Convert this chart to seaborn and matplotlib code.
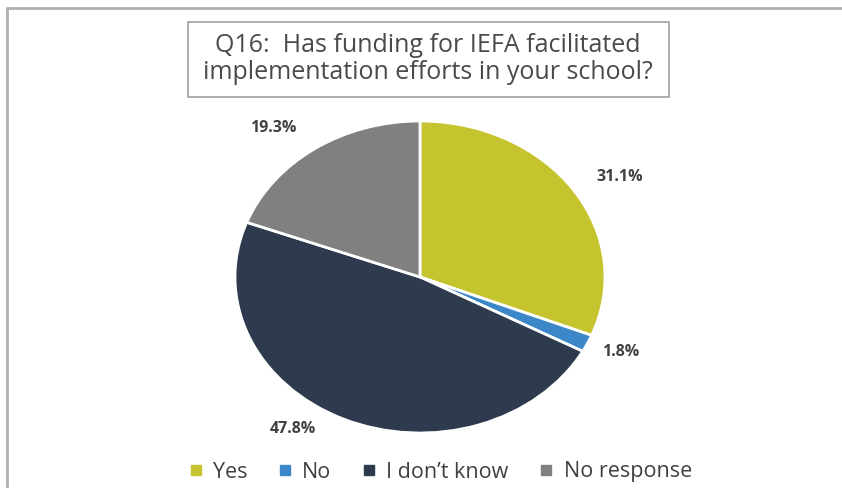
"""
Pie chart: Q16 funding for IEFA implementation.
"""
import numpy as np
import matplotlib
matplotlib.use("Agg")
import matplotlib.pyplot as plt
from matplotlib.patches import Rectangle
from matplotlib.lines import Line2D
import seaborn as sns

categories = ["Yes", "No", "I don\u2019t know", "No response"]
shares = [31.1, 1.8, 47.8, 19.3]
colors = ["#C5C42F", "#3B87C8", "#2E3A4E", "#808080"]
title = "Q16:  Has funding for IEFA facilitated\nimplementation efforts in your school?"

sns.set_style("white")
plt.rcParams["font.family"] = ["Open Sans", "DejaVu Sans"]

W, H = 842, 488
fig = plt.figure(figsize=(W / 100, H / 100), dpi=100)

# chart frame (cut by the image edge on right / bottom)
fig.add_artist(Line2D([7 / W, 7 / W], [0, 1 - 8 / H], color="#B0B0B0", lw=2))
fig.add_artist(Line2D([7 / W, 1], [1 - 8 / H, 1 - 8 / H], color="#B0B0B0", lw=2))

# pie axes: ellipse centre (420, 277), radii 185 x 156 px
cx, cy, rx, ry = 420, 277, 185, 156
ax = fig.add_axes([(cx - rx) / W, 1 - (cy + ry) / H, 2 * rx / W, 2 * ry / H])
wedges, _ = ax.pie(shares, colors=colors, startangle=90, counterclock=False,
                   wedgeprops=dict(edgecolor="white", linewidth=2))
ax.set_aspect("auto")
ax.set_xlim(-1, 1)
ax.set_ylim(-1, 1)
ax.axis("off")

# percentage labels, outside end like Excel
nudges = [(0.085, -0.03), (0.0, 0.03), (-0.19, 0.12), (-0.11, -0.03)]
for w, val, (dx, dy) in zip(wedges, shares, nudges):
    mid = np.deg2rad((w.theta1 + w.theta2) / 2)
    r = 1.2
    ax.text(r * np.cos(mid) + dx, r * np.sin(mid) + dy, f"{val:.1f}%",
            ha="center", va="center", fontsize=11.5, fontweight="bold",
            color="#404040", clip_on=False)

# title box
fig.add_artist(Rectangle((188 / W, 1 - 97 / H), (669 - 188) / W, (97 - 22) / H,
                         transform=fig.transFigure, fill=False,
                         edgecolor="#A0A0A0", lw=1.2))
fig.text(428 / W, 1 - 59 / H, title, ha="center", va="center",
         fontsize=18, color="#4A4A4A", linespacing=1.15)

# legend
handles = [Line2D([], [], marker="s", ls="", markersize=7, color=c) for c in colors]
fig.legend(handles, categories, loc="center", ncol=4, frameon=False,
           bbox_to_anchor=(440 / W, 1 - 472 / H), fontsize=15.5,
           handlelength=0.7, handletextpad=0.45, columnspacing=1.4,
           labelcolor="#404040")

fig.savefig("out.png", dpi=100)
plt.close(fig)
